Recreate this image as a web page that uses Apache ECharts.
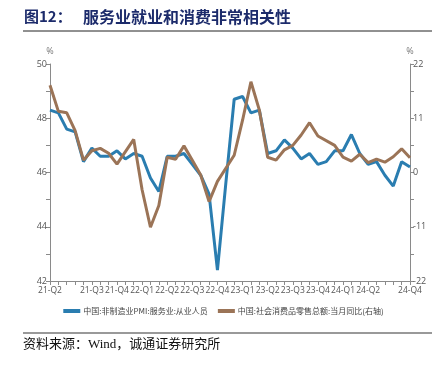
<!DOCTYPE html>
<html>
<head>
<meta charset="utf-8">
<script src="https://cdn.jsdelivr.net/npm/echarts@6/dist/echarts.min.js"></script>
<style>
html,body{margin:0;padding:0;background:#fff;}
#c{width:447px;height:369px;}
</style>
</head>
<body>
<div id="c"></div>
<script>
// Monthly categories 2021-04 .. 2024-11
const categories = [
  '2021-04','2021-05','2021-06','2021-07','2021-08','2021-09','2021-10','2021-11','2021-12',
  '2022-01','2022-02','2022-03','2022-04','2022-05','2022-06','2022-07','2022-08','2022-09','2022-10','2022-11','2022-12',
  '2023-01','2023-02','2023-03','2023-04','2023-05','2023-06','2023-07','2023-08','2023-09','2023-10','2023-11','2023-12',
  '2024-01','2024-02','2024-03','2024-04','2024-05','2024-06','2024-07','2024-08','2024-09','2024-10','2024-11'
];
// Categories that carry a quarter label
const labelledCategories = ['2021-04','2021-09','2021-12','2022-03','2022-06','2022-09','2022-12',
  '2023-03','2023-06','2023-09','2023-12','2024-03','2024-06','2024-11'];

// 中国:非制造业PMI:服务业:从业人员 (left axis)
const pmiServiceEmployment = [
  48.3,48.2,47.6,47.5,46.4,46.9,46.6,46.6,46.8,
  46.5,46.7,46.6,45.8,45.3,46.6,46.6,46.7,46.3,45.9,45.2,42.4,
  45.6,48.7,48.8,48.2,48.3,46.7,46.8,47.2,46.9,46.5,46.7,46.3,
  46.4,46.8,46.8,47.4,46.7,46.3,46.4,45.9,45.5,46.4,46.2
];
// 中国:社会消费品零售总额:当月同比 (right axis), January not published
const retailSalesYoY = [
  17.7,12.4,12.1,8.5,2.5,4.4,4.9,3.9,1.7,
  null,6.7,-3.5,-11.1,-6.7,3.1,2.7,5.4,2.5,-0.5,-5.9,-1.8,
  null,3.5,10.6,18.4,12.7,3.1,2.5,4.6,5.5,7.6,10.1,7.4,
  null,5.5,3.1,2.3,3.7,2.0,2.7,2.1,3.2,4.8,3.0
];

const leftTicks = {min:42, max:50, interval:2};
const rightTicks = {min:-22, max:22, interval:11};

const chart = echarts.init(document.getElementById('c'), null, {renderer:'canvas'});
const axisFont = '"Open Sans", "Noto Sans", sans-serif';
const axisColor = '#8a8a8a';
const labelColor = '#555';

chart.setOption({
  animation:false,
  backgroundColor:'#fff',
  graphic:[
    {type:'text', left:24, top:9, style:{text:'图12：', font:'bold 15px "Noto Sans CJK SC", sans-serif', fill:'#1c2b6b'}},
    {type:'text', left:83, top:9, style:{text:'服务业就业和消费非常相关性', font:'bold 16px "Noto Sans CJK SC", sans-serif', fill:'#1c2b6b'}},
    {type:'line', shape:{x1:23,y1:31,x2:432,y2:31}, style:{stroke:'#222', lineWidth:1}},
    {type:'line', shape:{x1:23,y1:333,x2:432,y2:333}, style:{stroke:'#777', lineWidth:1.5}},
    {type:'text', left:23, top:338, style:{text:'资料来源：Wind，诚通证券研究所', font:'13px "Liberation Serif", "Noto Sans CJK SC", serif', fill:'#111'}}
  ],
  legend:{
    bottom:49, left:'center',
    itemWidth:17, itemHeight:4, itemGap:10,
    icon:'rect',
    textStyle:{fontSize:8, color:'#444', fontFamily:'"Noto Sans CJK SC", sans-serif', padding:[0,0,0,-2]},
    data:['中国:非制造业PMI:服务业:从业人员','中国:社会消费品零售总额:当月同比(右轴)']
  },
  grid:{left:50, right:37, top:64, bottom:88},
  xAxis:{
    type:'category',
    data:categories,
    boundaryGap:false,
    axisLine:{onZero:false, lineStyle:{color:axisColor}},
    axisTick:{interval:0, length:4, lineStyle:{color:axisColor}},
    axisLabel:{
      interval:(idx, val)=>labelledCategories.includes(val),
      formatter:(val)=>{const [y,m]=val.split('-'); return y.slice(2)+'-Q'+Math.ceil(+m/3);},
      fontSize:8.5, color:labelColor, fontFamily:axisFont, margin:5
    },
    splitLine:{show:false}
  },
  yAxis:[
    {type:'value', min:leftTicks.min, max:leftTicks.max, interval:leftTicks.interval,
     name:'%', nameGap:8, nameTextStyle:{fontSize:9, color:'#777', fontFamily:axisFont, align:'center'},
     axisLine:{show:true, lineStyle:{color:axisColor}},
     axisTick:{show:true, length:4, lineStyle:{color:axisColor}},
     minorTick:{show:true, splitNumber:2, length:4, lineStyle:{color:axisColor}},
     axisLabel:{fontSize:9, color:labelColor, fontFamily:axisFont, margin:3},
     splitLine:{show:false}},
    {type:'value', min:rightTicks.min, max:rightTicks.max, interval:rightTicks.interval,
     name:'%', nameGap:8, nameTextStyle:{fontSize:9, color:'#777', fontFamily:axisFont, align:'center'},
     axisLine:{show:true, lineStyle:{color:axisColor}},
     axisTick:{show:true, length:4, lineStyle:{color:axisColor}},
     minorTick:{show:true, splitNumber:2, length:4, lineStyle:{color:axisColor}},
     axisLabel:{fontSize:9, color:labelColor, fontFamily:axisFont, margin:3},
     splitLine:{show:false}}
  ],
  series:[
    {name:'中国:非制造业PMI:服务业:从业人员', type:'line', yAxisIndex:0, data:pmiServiceEmployment,
     showSymbol:false, lineStyle:{width:3, color:'#2a7db0'}, itemStyle:{color:'#2a7db0'}},
    {name:'中国:社会消费品零售总额:当月同比(右轴)', type:'line', yAxisIndex:1, data:retailSalesYoY,
     connectNulls:true, showSymbol:false, lineStyle:{width:3, color:'#9b7457'}, itemStyle:{color:'#9b7457'}}
  ]
});
</script>
</body>
</html>
